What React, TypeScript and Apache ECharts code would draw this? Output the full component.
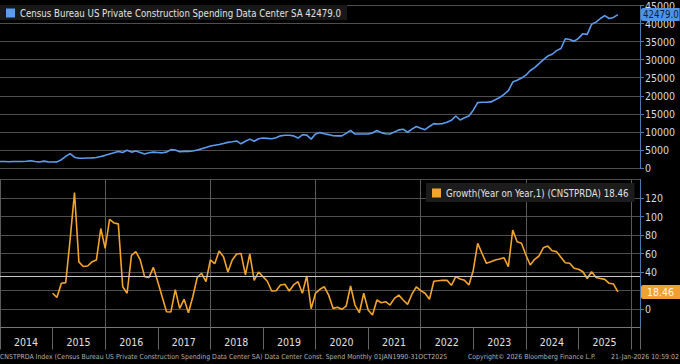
import React, { useEffect, useRef } from "react";
import * as echarts from "echarts";

const START_YEAR = 2014;
const X_MAX = 2026.17;
const FONT = "'Liberation Sans Narrow','DejaVu Sans Condensed',Roboto,sans-serif";

const SPEND_NAME = "Census Bureau US Private Construction Spending Data Center SA";
const GROWTH_NAME = "Growth(Year on Year,1) (CNSTPRDA)";

// Monthly spending, Jan 2014 .. Oct 2025
const spending2014 = [1800, 1800, 1750, 1800, 1800, 1800, 1850, 2000, 1800, 1650, 1900, 1700];
const spending2015 = [1650, 1700, 2300, 3200, 4000, 3000, 2700, 2700, 2750, 2800, 2900, 3200];
const spending2016 = [3500, 3900, 4200, 4600, 4300, 4900, 4400, 4700, 4300, 3900, 4200, 4400];
const spending2017 = [4300, 4200, 4400, 5100, 5000, 4500, 4600, 4600, 4700, 5000, 5300, 5700];
const spending2018 = [6100, 6300, 6500, 6800, 7100, 7250, 7500, 6700, 7400, 8000, 7400, 8100];
const spending2019 = [8300, 8200, 8100, 8400, 8900, 9050, 9050, 8900, 8300, 9200, 9100, 8000];
const spending2020 = [9400, 9800, 9500, 9250, 8950, 8900, 8900, 9600, 10400, 9400, 9400, 9400];
const spending2021 = [9400, 9700, 10400, 9800, 9500, 9400, 10000, 10550, 10750, 9900, 10750, 11500];
const spending2022 = [11000, 10600, 11500, 12300, 12200, 12300, 12700, 13200, 14400, 13300, 13900, 14400];
const spending2023 = [16000, 18100, 18200, 18200, 18300, 18900, 19500, 20400, 21400, 23800, 24300, 24900];
const spending2024 = [25700, 27000, 27800, 28900, 30000, 31000, 31500, 32500, 33100, 35800, 35600, 35100];
const spending2025 = [35900, 37200, 37000, 39800, 40400, 41400, 42200, 41400, 41700, 42479];

// Year-on-year growth (%), Jan 2015 .. Oct 2025
const growthStartIndex = 12;
const growth2015 = [17, 12.6, 27.8, 28.5, 75, 126, 51, 46, 46.5, 51, 53, 87];
const growth2016 = [65.6, 97, 93, 92, 24, 17, 58, 62, 53, 35, 34, 45];
const growth2017 = [29.5, 13.3, -3, -3.2, 21, 0.7, 10.5, -4, 13.3, 34, 38.6, 29.5];
const growth2018 = [53, 49, 62.7, 56.5, 40, 53, 59.5, 60, 36.8, 59.5, 31, 40];
const growth2019 = [35, 30, 19.5, 19.8, 26, 26.7, 19.5, 26, 29.5, 17, 35.7, 0.3];
const growth2020 = [17, 21.3, 24, 15, 0.7, 1.8, -0.3, 3.2, 24.9, 4.3, -4, 17];
const growth2021 = [-1.1, -6.5, 9.7, 6.8, 7.9, 4.3, 11.5, 15, 9.7, 5, 16, 24];
const growth2022 = [19.8, 17, 10.5, 30, 30.6, 31, 31, 25.6, 35, 32.4, 31, 26];
const growth2023 = [42, 71, 60, 49.4, 51, 53, 54, 55.5, 45.7, 85.4, 72.8, 71];
const growth2024 = [58.4, 47.6, 53.7, 57.3, 66.3, 68, 63, 62, 56, 50, 49.4, 44];
const growth2025 = [43, 40.3, 33, 40.3, 34, 33, 32, 27.8, 27, 18.46];

const growthReference = 35.7;

const footerLeft =
  "CNSTPRDA Index (Census Bureau US Private Construction Spending Data Center SA) Data Center Const. Spend Monthly 01JAN1990-31OCT2025";
const footerMid = "Copyright\u00a9 2026 Bloomberg Finance L.P.";
const footerRight = "21-Jan-2026 10:59:02";

const spending = [
  ...spending2014, ...spending2015, ...spending2016, ...spending2017, ...spending2018, ...spending2019,
  ...spending2020, ...spending2021, ...spending2022, ...spending2023, ...spending2024, ...spending2025,
];
const growth = [
  ...growth2015, ...growth2016, ...growth2017, ...growth2018, ...growth2019, ...growth2020,
  ...growth2021, ...growth2022, ...growth2023, ...growth2024, ...growth2025,
];

const BLUE = "#5b9cf0";
const ORANGE = "#f5a42a";
const AXIS_BLUE = "#4a78b0";
const GRID = "#4e4e4e";
const CLEAR = "rgba(0,0,0,0)";

export default function App() {
  const ref = useRef<HTMLDivElement>(null);
  useEffect(() => {
    if (!ref.current) return;
    const chart = echarts.init(ref.current, undefined, { renderer: "svg" });
    const spendData = spending.map((v, i) => [START_YEAR + i / 12, v]);
    const growthData = growth.map((v, k) => [START_YEAR + (k + growthStartIndex) / 12, v]);
    const lastSpend = spending[spending.length - 1];
    const lastGrowth = growth[growth.length - 1];

    const rightAxisLabel = {
      color: "#dcdcdc", fontSize: 10.5, fontFamily: FONT, margin: 5,
      formatter: (v: number) => String(v),
    };
    const rightAxisBase = {
      type: "value",
      position: "right",
      axisLine: { show: true, lineStyle: { color: AXIS_BLUE, width: 1 } },
      axisTick: { show: true, length: 4, lineStyle: { color: AXIS_BLUE } },
      splitLine: { show: true, lineStyle: { color: GRID, width: 1 } },
    };
    const footStyle = { fontSize: 6.9, color: "#b0b0b0", fontWeight: "normal", fontFamily: FONT };

    chart.setOption({
      animation: false,
      backgroundColor: "#000",
      textStyle: { fontFamily: FONT },
      title: [
        { text: footerLeft, left: 0, top: 353, padding: 0, textStyle: footStyle },
        { text: footerMid, left: 468, top: 353, padding: 0, textStyle: footStyle },
        { text: footerRight, right: 1, top: 353, padding: 0, textStyle: footStyle },
      ],
      legend: [
        {
          data: [SPEND_NAME],
          left: 0,
          top: 5,
          padding: [3, 6, 2, 6],
          icon: "rect",
          itemWidth: 9,
          itemHeight: 9,
          itemGap: 4,
          backgroundColor: "#181818",
          textStyle: { color: "#e0e0e0", fontSize: 9.6, fontFamily: FONT },
          formatter: (name: string) => name + " " + lastSpend.toFixed(1),
        },
        {
          data: [GROWTH_NAME],
          left: 426,
          top: 183,
          padding: [5, 6, 4, 6],
          icon: "rect",
          itemWidth: 9,
          itemHeight: 9,
          backgroundColor: "#1c1c1c",
          textStyle: { color: "#e0e0e0", fontSize: 9.6, fontFamily: FONT },
          formatter: (name: string) => name + " " + lastGrowth.toFixed(2),
        },
      ],
      grid: [
        { left: 0, right: 40, top: 5, height: 163 },
        { left: 0, right: 40, top: 179.5, height: 148 },
      ],
      xAxis: [
        {
          gridIndex: 0, type: "value", min: START_YEAR, max: X_MAX, show: false,
          splitLine: { show: false },
        },
        {
          gridIndex: 1, type: "value", min: START_YEAR, max: X_MAX, interval: 1, position: "bottom",
          axisLine: { show: true, onZero: false, lineStyle: { color: "#777" } },
          axisTick: { show: true, length: 22, lineStyle: { color: "#666" } },
          axisLabel: {
            color: "#e0e0e0", fontSize: 10.5, fontFamily: FONT, margin: 9,
            padding: [0, 0, 0, 52],
            formatter: (v: number) => (v < 2026 && Number.isInteger(v) ? String(v) : ""),
          },
          splitLine: { show: false },
        },
        {
          gridIndex: 1, type: "value", min: START_YEAR, max: X_MAX, interval: 2, position: "bottom",
          axisLine: { show: false }, axisTick: { show: false }, axisLabel: { show: false },
          splitLine: { show: true, lineStyle: { color: "#5a5a5a", width: 1 } },
        },
      ],
      yAxis: [
        { ...rightAxisBase, gridIndex: 0, min: 0, max: 45000, interval: 5000, axisLabel: rightAxisLabel },
        { ...rightAxisBase, gridIndex: 1, min: -20, max: 140, interval: 20, axisLabel: { ...rightAxisLabel, showMinLabel: false, showMaxLabel: false } },
      ],
      series: [
        {
          name: SPEND_NAME,
          type: "line",
          xAxisIndex: 0,
          yAxisIndex: 0,
          data: spendData,
          showSymbol: false,
          lineStyle: { color: BLUE, width: 1.6 },
          itemStyle: { color: BLUE },
          markLine: {
            silent: true,
            symbol: ["none", "none"],
            lineStyle: { color: CLEAR, width: 0 },
            data: [{ yAxis: lastSpend }],
            label: {
              show: true, position: "end", distance: 1,
              formatter: () => lastSpend.toFixed(1),
              backgroundColor: "#4f92e6", color: "#0b1d3a", fontSize: 9.6, fontFamily: FONT,
              padding: [2, 1, 1, 2], borderRadius: [2, 0, 0, 2],
            },
          },
        },
        {
          name: GROWTH_NAME,
          type: "line",
          xAxisIndex: 1,
          yAxisIndex: 1,
          data: growthData,
          showSymbol: false,
          lineStyle: { color: ORANGE, width: 1.6 },
          itemStyle: { color: ORANGE },
          markLine: {
            silent: true,
            symbol: ["none", "none"],
            data: [
              { yAxis: growthReference, lineStyle: { color: "#c8c8c8", width: 1, type: "solid" }, label: { show: false } },
              {
                yAxis: lastGrowth,
                lineStyle: { color: CLEAR, width: 0 },
                label: {
                  show: true, position: "end", distance: 1,
                  formatter: () => lastGrowth.toFixed(2),
                  backgroundColor: "#f0a030", color: "#fff6e6", fontSize: 10.5, fontFamily: FONT,
                  padding: [2, 8, 1, 6], borderRadius: [2, 0, 0, 2],
                },
              },
            ],
          },
        },
      ],
    });
    return () => chart.dispose();
  }, []);
  return <div ref={ref} style={{ position: "fixed", left: 0, top: 0, width: 680, height: 364, background: "#000" }} />;
}
